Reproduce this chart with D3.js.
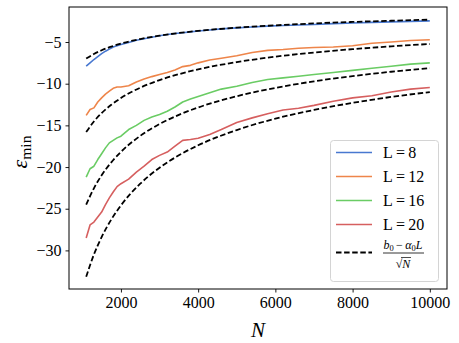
<!DOCTYPE html>
<html>
<head>
<meta charset="utf-8">
<script src="https://cdn.jsdelivr.net/npm/d3@7"></script>
<style>
  html, body { margin: 0; padding: 0; background: #fff; }
  svg { display: block; }
</style>
</head>
<body>
<svg id="chart" width="459" height="343"></svg>
<script>
// ---- data ----
const sizesN = [1100,1200,1300,1400,1500,1600,1700,1800,1900,2000,2200,2400,2600,2800,3000,3200,3400,3600,3800,4000,4300,4600,5000,5400,5800,6200,6600,7000,7500,8000,8500,9000,9500,10000];
const epsL8  = [-7.9,-7.5,-7.1,-6.75,-6.4,-6.1,-5.85,-5.6,-5.45,-5.3,-5.05,-4.8,-4.6,-4.42,-4.25,-4.1,-3.98,-3.88,-3.78,-3.68,-3.55,-3.42,-3.3,-3.2,-3.1,-3.02,-2.96,-2.9,-2.8,-2.72,-2.65,-2.58,-2.52,-2.46];
const epsL12 = [-13.8,-13.1,-12.9,-12.2,-11.7,-11.25,-10.9,-10.55,-10.4,-10.4,-10.25,-9.8,-9.45,-9.15,-8.9,-8.65,-8.35,-7.95,-7.8,-7.5,-7.15,-6.95,-6.65,-6.25,-6.0,-5.9,-5.75,-5.65,-5.6,-5.45,-5.15,-5.0,-4.82,-4.73];
const epsL16 = [-21.2,-20.2,-19.9,-19.1,-18.4,-17.7,-17.1,-16.8,-16.5,-16.3,-15.5,-15.0,-14.4,-14.0,-13.7,-13.3,-12.8,-12.2,-11.85,-11.55,-11.1,-10.65,-10.3,-9.85,-9.5,-9.3,-9.1,-8.9,-8.65,-8.4,-8.15,-7.9,-7.65,-7.5];
const epsL20 = [-28.5,-26.95,-26.6,-26.0,-25.4,-24.5,-23.7,-23.0,-22.35,-22.0,-21.45,-20.6,-19.9,-19.1,-18.6,-18.2,-17.5,-16.8,-16.7,-16.55,-16.1,-15.5,-14.65,-14.1,-13.6,-13.15,-12.95,-12.6,-12.1,-11.7,-11.45,-11.0,-10.65,-10.45];

const fitN   = [1100,1300,1500,1750,2000,2500,3000,3500,4000,5000,6000,7000,8000,9000,10000];
const fitL8  = [-6.99,-6.43,-5.99,-5.55,-5.19,-4.64,-4.24,-3.92,-3.67,-3.28,-3.00,-2.77,-2.59,-2.45,-2.32];
const fitL12 = [-15.80,-14.53,-13.53,-12.53,-11.72,-10.48,-9.57,-8.86,-8.28,-7.41,-6.76,-6.26,-5.86,-5.52,-5.24];
const fitL16 = [-24.51,-22.55,-20.99,-19.44,-18.18,-16.26,-14.84,-13.74,-12.85,-11.50,-10.50,-9.72,-9.09,-8.57,-8.13];
const fitL20 = [-33.16,-30.50,-28.40,-26.30,-24.60,-22.00,-20.08,-18.59,-17.39,-15.56,-14.20,-13.15,-12.30,-11.59,-11.00];

const seriesLabels = ["L = 8", "L = 12", "L = 16", "L = 20"];
const seriesColors = ["#4878d0", "#ee854a", "#6acc64", "#d65f5f"];
const xTicks = [2000, 4000, 6000, 8000, 10000];
const yTicks = [-30, -25, -20, -15, -10, -5];

// ---- layout ----
const svg = d3.select("#chart");
const plot = { left: 69, right: 447, top: 7, bottom: 289 };
const FONT = "Liberation Serif";

const x = d3.scaleLinear().domain([655, 10445]).range([plot.left, plot.right]);
const y = d3.scaleLinear().domain([-34.63, -0.80]).range([plot.bottom, plot.top]);

const solids = [epsL8, epsL12, epsL16, epsL20];
const fits = [fitL8, fitL12, fitL16, fitL20];

const line = d3.line().x(d => x(d[0])).y(d => y(d[1]));
const smooth = d3.line().x(d => x(d[0])).y(d => y(d[1])).curve(d3.curveMonotoneX);

const g = svg.append("g");

solids.forEach((s, i) => {
  g.append("path")
    .datum(sizesN.map((n, k) => [n, s[k]]))
    .attr("d", line)
    .attr("fill", "none")
    .attr("stroke", seriesColors[i])
    .attr("stroke-width", 1.6)
    .attr("stroke-linejoin", "round");
});

fits.forEach((s) => {
  g.append("path")
    .datum(fitN.map((n, k) => [n, s[k]]))
    .attr("d", smooth)
    .attr("fill", "none")
    .attr("stroke", "#000")
    .attr("stroke-width", 1.8)
    .attr("stroke-dasharray", "5.5,2.6");
});

// frame
svg.append("rect")
  .attr("x", plot.left).attr("y", plot.top)
  .attr("width", plot.right - plot.left).attr("height", plot.bottom - plot.top)
  .attr("fill", "none").attr("stroke", "#000").attr("stroke-width", 1);

const fmt = v => (v < 0 ? "\u2212" + Math.abs(v) : String(v));

// axes
const xAxis = d3.axisBottom(x).tickValues(xTicks).tickSize(3.5).tickPadding(4).tickFormat(d => String(d));
const yAxis = d3.axisLeft(y).tickValues(yTicks).tickSize(3.5).tickPadding(4).tickFormat(fmt);

const gx = svg.append("g").attr("transform", `translate(0,${plot.bottom})`).call(xAxis);
const gy = svg.append("g").attr("transform", `translate(${plot.left},0)`).call(yAxis);
[gx, gy].forEach(a => {
  a.attr("font-family", FONT).attr("font-size", 16);
  a.select(".domain").remove();
  a.selectAll(".tick line").attr("stroke", "#000").attr("stroke-width", 0.9);
  a.selectAll(".tick text").attr("fill", "#000").attr("font-family", FONT).attr("font-size", 16);
});

// axis labels
svg.append("text")
  .attr("x", (plot.left + plot.right) / 2).attr("y", 337)
  .attr("text-anchor", "middle")
  .attr("font-family", FONT).attr("font-size", 21).attr("font-style", "italic")
  .text("N");

const yl = svg.append("text")
  .attr("transform", `translate(27,${(plot.top + plot.bottom) / 2 + 4}) rotate(-90)`)
  .attr("text-anchor", "middle")
  .attr("font-family", FONT).attr("font-size", 22);
yl.append("tspan").attr("font-style", "italic").text("\u03b5");
yl.append("tspan").attr("dy", 4).attr("font-size", 15.5).text("min");

// legend
const lg = svg.append("g").attr("font-family", FONT);
lg.append("rect")
  .attr("x", 330.5).attr("y", 140.5).attr("width", 108).attr("height", 141)
  .attr("rx", 3).attr("fill", "#fff").attr("fill-opacity", 0.8)
  .attr("stroke", "#d4d4d4").attr("stroke-width", 1);

const rowY = [152.5, 176.5, 200.5, 224.5];
seriesLabels.forEach((lab, i) => {
  lg.append("line")
    .attr("x1", 336).attr("x2", 372).attr("y1", rowY[i]).attr("y2", rowY[i])
    .attr("stroke", seriesColors[i]).attr("stroke-width", 1.6);
  lg.append("text")
    .attr("x", 383).attr("y", rowY[i] + 5.5)
    .attr("font-size", 16)
    .text(lab.replace(" = ", "\u2009=\u2009"));
});

// fit legend entry
const fy = 252.5;
lg.append("line")
  .attr("x1", 336).attr("x2", 372).attr("y1", fy).attr("y2", fy)
  .attr("stroke", "#000").attr("stroke-width", 1.8).attr("stroke-dasharray", "5.5,2.6");

const num = lg.append("text").attr("x", 403).attr("y", fy - 4).attr("text-anchor", "middle")
  .attr("font-size", 12);
num.append("tspan").attr("font-style", "italic").text("b");
num.append("tspan").attr("dy", 2).attr("font-size", 8.5).text("0");
num.append("tspan").attr("dy", -2).text("\u2009\u2212\u2009");
num.append("tspan").attr("font-style", "italic").text("\u03b1");
num.append("tspan").attr("dy", 2).attr("font-size", 8.5).text("0");
num.append("tspan").attr("dy", -2).attr("font-style", "italic").text("L");

lg.append("line")
  .attr("x1", 383).attr("x2", 424).attr("y1", fy + 0.5).attr("y2", fy + 0.5)
  .attr("stroke", "#000").attr("stroke-width", 0.8);

const den = lg.append("text").attr("x", 403).attr("y", fy + 15).attr("text-anchor", "middle")
  .attr("font-size", 12);
den.append("tspan").text("\u221a");
den.append("tspan").attr("font-style", "italic").text("N");
lg.append("line")
  .attr("x1", 401).attr("x2", 411).attr("y1", fy + 5).attr("y2", fy + 5)
  .attr("stroke", "#000").attr("stroke-width", 0.7);
</script>
</body>
</html>
